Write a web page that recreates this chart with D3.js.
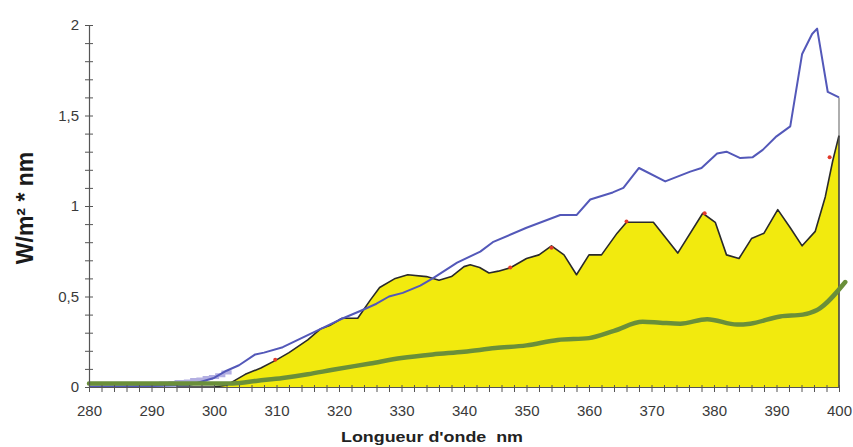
<!DOCTYPE html>
<html><head><meta charset="utf-8">
<script src="https://cdn.jsdelivr.net/npm/d3@7"></script>
<style>
body{margin:0;background:#fff}
svg{display:block}
text{font-family:Arial,"Liberation Sans",sans-serif}
</style>
</head><body>
<svg id="c" width="853" height="447"></svg>
<script>
// ---- data (wavelength in nm, irradiance in W/m² * nm) ----
const xTickValues = d3.range(280, 401, 10);
const yTickValues = [0, 0.5, 1, 1.5, 2];

// blue curve (upper spectrum)
const blueNm  = [280, 290, 296, 300, 302, 304, 306.6, 308, 311, 314, 317, 320, 323.4, 326, 328, 330.2, 333, 335, 338.9, 342.6, 344.6, 350, 355.4, 358, 360.2, 363.8, 365.5, 368, 372.2, 376.2, 378, 380.5, 382, 384.2, 386.2, 387.8, 390, 392.2, 394.1, 395.7, 396.5, 398.2, 400];
const blueVal = [0.003, 0.005, 0.01, 0.05, 0.09, 0.12, 0.18, 0.19, 0.22, 0.27, 0.32, 0.37, 0.42, 0.46, 0.50, 0.52, 0.56, 0.60, 0.687, 0.748, 0.80, 0.88, 0.95, 0.95, 1.036, 1.075, 1.10, 1.21, 1.136, 1.19, 1.21, 1.29, 1.30, 1.265, 1.27, 1.31, 1.385, 1.44, 1.84, 1.95, 1.98, 1.63, 1.60];

// light lavender noisy segment near the start of the blue curve
const lavNm  = [290, 291.5, 293, 294, 295.5, 296.5, 297.5, 298.5, 299.5, 300.5, 301.5, 302.5];
const lavVal = [0.012, 0.02, 0.022, 0.028, 0.03, 0.038, 0.042, 0.05, 0.055, 0.065, 0.08, 0.092];

// yellow filled spectrum with black outline
const yellowNm  = [294, 300, 302, 303, 305, 307.5, 310, 312, 315, 317, 318.5, 320.5, 323, 325, 326.5, 329, 331, 334, 336, 338, 340, 341, 342.5, 344, 345.5, 347.5, 350, 352, 354, 356, 358, 360, 362, 364.5, 366, 370.3, 374.2, 378.2, 380.2, 382, 384, 386, 388, 390.2, 392.2, 394.1, 396.2, 397.8, 399, 400];
const yellowVal = [0, 0, 0.01, 0.03, 0.07, 0.105, 0.15, 0.19, 0.26, 0.32, 0.34, 0.38, 0.38, 0.48, 0.55, 0.60, 0.62, 0.61, 0.59, 0.61, 0.665, 0.675, 0.66, 0.63, 0.64, 0.66, 0.71, 0.73, 0.78, 0.73, 0.62, 0.73, 0.73, 0.85, 0.91, 0.91, 0.74, 0.96, 0.91, 0.73, 0.71, 0.82, 0.85, 0.98, 0.88, 0.78, 0.86, 1.05, 1.25, 1.39];

// green smooth curve
const greenNm  = [280, 290, 300, 303, 307, 311, 315, 319, 325, 330, 335, 340, 345, 350, 355, 360, 364, 368.6, 371.4, 374.6, 378.9, 383.7, 385.8, 390.6, 394.2, 396.5, 401];
const greenVal = [0.02, 0.02, 0.02, 0.02, 0.035, 0.05, 0.07, 0.095, 0.13, 0.16, 0.18, 0.195, 0.215, 0.23, 0.26, 0.27, 0.31, 0.36, 0.355, 0.35, 0.375, 0.345, 0.35, 0.39, 0.40, 0.425, 0.58];

// small red marks on the yellow outline
const redNm  = [309.8, 347.4, 354, 366, 378.5, 398.5];
const redVal = [0.15, 0.66, 0.77, 0.915, 0.96, 1.27];

// ---- chart ----
const svg = d3.select('#c');
const x = d3.scaleLinear().domain([280, 400]).range([89, 839]);
const y = d3.scaleLinear().domain([0, 2]).range([387, 25]);

const pts = (a, b) => a.map((d, i) => [d, b[i]]);

// yellow area
const yellowPts = pts(yellowNm, yellowVal);
svg.append('path')
  .datum(yellowPts)
  .attr('d', d3.area().x(d => x(d[0])).y0(y(0)).y1(d => y(d[1])))
  .attr('fill', '#f2ea0e');
svg.append('path')
  .datum(yellowPts)
  .attr('d', d3.line().x(d => x(d[0])).y(d => y(d[1])))
  .attr('fill', 'none').attr('stroke', '#2a2a2a').attr('stroke-width', 1.6)
  .attr('stroke-linejoin', 'round');
// right edge of yellow area
svg.append('line')
  .attr('x1', x(400)).attr('x2', x(400))
  .attr('y1', y(yellowVal[yellowVal.length - 1])).attr('y2', y(0))
  .attr('stroke', '#444').attr('stroke-width', 1.6);
// vertical grey line from blue end down to yellow
svg.append('line')
  .attr('x1', x(400)).attr('x2', x(400))
  .attr('y1', y(blueVal[blueVal.length - 1])).attr('y2', y(yellowVal[yellowVal.length - 1]))
  .attr('stroke', '#9a9a9a').attr('stroke-width', 1.6);

// red marks
svg.selectAll('circle.red')
  .data(pts(redNm, redVal))
  .join('circle')
  .attr('cx', d => x(d[0])).attr('cy', d => y(d[1])).attr('r', 2)
  .attr('fill', '#e23a2a');

// lavender
svg.append('path')
  .datum(pts(lavNm, lavVal))
  .attr('d', d3.line().curve(d3.curveStepAfter).x(d => x(d[0])).y(d => y(d[1])))
  .attr('fill', 'none').attr('stroke', '#b3afe2').attr('stroke-width', 4);

// blue line
svg.append('path')
  .datum(pts(blueNm, blueVal))
  .attr('d', d3.line().x(d => x(d[0])).y(d => y(d[1])))
  .attr('fill', 'none').attr('stroke', '#5358b9').attr('stroke-width', 2)
  .attr('stroke-linejoin', 'round');

// green line
svg.append('path')
  .datum(pts(greenNm, greenVal))
  .attr('d', d3.line().curve(d3.curveMonotoneX).x(d => x(d[0])).y(d => y(d[1])))
  .attr('fill', 'none').attr('stroke', '#6a8f3a').attr('stroke-width', 4.5)
  .attr('stroke-linecap', 'round');

// ---- axes ----
const fmt = d => String(d).replace('.', ',');
const xAxis = d3.axisBottom(x)
  .tickValues(d3.range(280, 401, 2))
  .tickSizeInner(5).tickSizeOuter(0).tickPadding(13)
  .tickFormat(d => (d % 10 === 0 ? d : ''));
const gx = svg.append('g').attr('transform', `translate(0,${y(0)})`).call(xAxis);
gx.selectAll('.tick line').attr('y1', -2);

const yAxis = d3.axisLeft(y)
  .tickValues(d3.range(0, 21).map(i => i / 10))
  .tickSizeInner(4).tickSizeOuter(0).tickPadding(6)
  .tickFormat(d => (yTickValues.includes(d) ? fmt(d) : ''));
const gy = svg.append('g').attr('transform', `translate(${x(280)},0)`).call(yAxis);
gy.selectAll('.tick line').attr('x1', 4);

[gx, gy].forEach(g => {
  g.select('.domain').attr('stroke', '#555').attr('stroke-width', 1.2);
  g.selectAll('.tick line').attr('stroke', '#555');
  g.selectAll('.tick text').attr('font-size', 15).attr('fill', '#3a3a3a')
    .attr('font-family', 'Arial, "Liberation Sans", sans-serif');
});

// titles
svg.append('text')
  .attr('x', 432).attr('y', 442)
  .attr('text-anchor', 'middle')
  .attr('font-weight', 'bold').attr('font-size', 15).attr('fill', '#222')
  .attr('textLength', 182).attr('lengthAdjust', 'spacingAndGlyphs')
  .style('white-space', 'pre')
  .text("Longueur d'onde  nm");

svg.append('text')
  .attr('transform', 'translate(33,208) rotate(-90)')
  .attr('text-anchor', 'middle')
  .attr('font-weight', 'bold').attr('font-size', 23).attr('fill', '#1a1a1a')
  .text('W/m² * nm');
</script>
</body></html>
